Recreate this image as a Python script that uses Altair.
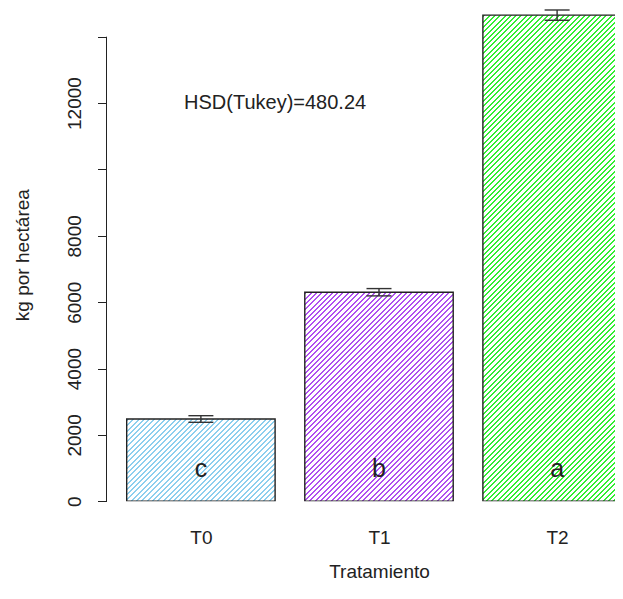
import json
import altair as alt
import pandas as pd

# ---- data ----
categories = ["T0", "T1", "T2"]
means = [2480, 6300, 14650]
errors = [100, 110, 155]
letters = ["c", "b", "a"]
hatch_colors = ["#8ccfee", "#b050f0", "#33ee33"]
y_ticks = [0, 2000, 4000, 6000, 8000, 10000, 12000, 14000]
y_hidden = [10000, 14000]
hsd_label = ["HSD(Tukey)=480.24"]
hsd_x = [1.2]
hsd_y = [12000]

# ---- layout ----
PXX = 148.42           # pixels per x unit
W = 508.5              # plot width (right part of last bar is cut off)
H = 493.3
XMIN = 0.064
XMAX = XMIN + W / PXX
YMAX = 14865.0
PXY = H / YMAX
FONT = "Liberation Sans"
INK = "#222222"

starts = [0.2 + 1.2 * i for i in range(len(categories))]
df = pd.DataFrame({
    "cat": categories,
    "mean": means,
    "lo": [m - e for m, e in zip(means, errors)],
    "hi": [m + e for m, e in zip(means, errors)],
    "x0": starts,
    "x1": [s + 1.0 for s in starts],
    "xc": [s + 0.5 for s in starts],
    "letter": letters,
    "zero": [0] * len(categories),
})
cap_half = 12.5 / PXX
df["cl"] = df["xc"] - cap_half
df["cr"] = df["xc"] + cap_half

xs = alt.Scale(domain=[XMIN, XMAX], nice=False, zero=False)
ys = alt.Scale(domain=[0, YMAX], nice=False)


def hatch(color, w, h, period=5.3, line=2.0):
    total = w + h
    c = total / (w * w + h * h)
    stops = [{"offset": 0, "color": "#ffffff"}]
    pos = 0.8
    while pos < total:
        a = pos / total
        b = min(pos + line, total) / total
        stops += [
            {"offset": a, "color": "#ffffff"},
            {"offset": a, "color": color},
            {"offset": b, "color": color},
            {"offset": b, "color": "#ffffff"},
        ]
        pos += period
    stops.append({"offset": 1, "color": "#ffffff"})
    return {"gradient": "linear", "x1": 0, "y1": 0,
            "x2": c * w, "y2": c * h, "stops": stops}


x_labels = json.dumps(categories)
x_axis = alt.Axis(
    values=[s + 0.5 for s in starts],
    labelExpr=f"{x_labels}[round((datum.value - 0.7) / 1.2)]",
    domain=False, ticks=False, tickSize=0, grid=False,
    labelFlush=False, labelOverlap=False,
    labelFontSize=19, labelFont=FONT, labelColor=INK,
    labelBaseline="alphabetic", labelPadding=41.7,
    title="Tratamiento", titleFontSize=19, titleFont=FONT,
    titleFontWeight="normal", titleColor=INK,
    titleX=272.5, titleY=76, titleBaseline="alphabetic", titleAlign="center",
)
hidden = " || ".join(f"datum.value == {v}" for v in y_hidden)
y_axis = alt.Axis(
    values=y_ticks, format="d",
    labelExpr=f"({hidden}) ? '' : datum.label",
    domain=False, grid=False, tickSize=9, tickColor=INK, tickWidth=1,
    labelAngle=270, labelAlign="center", labelBaseline="alphabetic",
    labelPadding=17.5, labelOverlap=False, labelFlush=False,
    labelFontSize=19, labelFont=FONT, labelColor=INK,
    title="kg por hectárea", titleFontSize=19, titleFont=FONT,
    titleFontWeight="normal", titleColor=INK, titleAngle=270,
    titleX=-84, titleY=H / 2, titleBaseline="middle", titleAlign="center",
)


def X(field):
    return alt.X(field, type="quantitative", scale=xs, axis=x_axis)


def Y(field):
    return alt.Y(field, type="quantitative", scale=ys, axis=y_axis)


base = alt.Chart(df)
layers = []
for i, cat in enumerate(categories):
    grad = hatch(hatch_colors[i], 1.0 * PXX, means[i] * PXY)
    bar = base.transform_filter(alt.datum.cat == cat).mark_rect(
        fill=grad, stroke=INK, strokeWidth=1.4, clip=True
    ).encode(x=X("x0"), x2="x1:Q", y=Y("mean"), y2="zero:Q")
    layers.append(bar)

err = base.mark_rule(color="#333333", strokeWidth=1.4).encode(
    x=X("xc"), y=Y("lo"), y2="hi:Q")
cap_lo = base.mark_rule(color="#333333", strokeWidth=1.4).encode(
    x=X("cl"), x2="cr:Q", y=Y("lo"))
cap_hi = base.mark_rule(color="#333333", strokeWidth=1.4).encode(
    x=X("cl"), x2="cr:Q", y=Y("hi"))

letters_layer = base.mark_text(
    fontSize=25, font=FONT, color=INK, baseline="alphabetic", align="center"
).encode(x=X("xc"), y=alt.value(469), text="letter:N")

ann = alt.Chart(pd.DataFrame({"t": hsd_label, "x": hsd_x, "y": hsd_y})).mark_text(
    fontSize=20, font=FONT, color=INK, baseline="middle", align="center"
).encode(x=X("x"), y=Y("y"), text="t:N")

axis_line = alt.Chart(pd.DataFrame({"a": [y_ticks[0]], "b": [y_ticks[-1]]})).mark_rule(
    color=INK, strokeWidth=1
).encode(x=alt.value(0), y=Y("a"), y2="b:Q")

chart = alt.layer(*layers, err, cap_lo, cap_hi, letters_layer, ann, axis_line).properties(
    width=W, height=H,
    autosize=alt.AutoSizeParams(type="none"),
    padding={"left": 98.5, "top": 0, "right": 0, "bottom": 82.7},
    background="white",
).configure_view(stroke=None)

chart.save("out.html", embed_options={"renderer": "svg", "actions": False})
